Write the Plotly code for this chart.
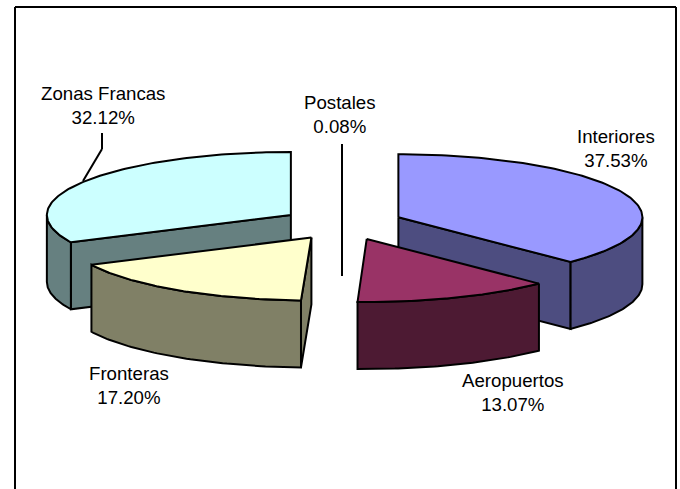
import numpy as np
import plotly.graph_objects as go

categories = ["Interiores", "Aeropuertos", "Postales", "Fronteras", "Zonas Francas"]
shares = [37.53, 13.07, 0.08, 17.20, 32.12]
top_colors = ["#9999ff", "#993366", "#ffffff", "#ffffcc", "#ccffff"]
side_colors = ["#4d4d80", "#4d1a33", "#808080", "#808066", "#668080"]

# pie projection, in pixels of the 680x489 page
CX, CY = 342, 223
A, B, DEPTH = 244, 63, 67
EX, EY = 61, 15
# the original's front slices sit slightly further out than its back ones
NUDGE = {"Interiores": (0, 0), "Zonas Francas": (0.5, 0), "Fronteras": (3, 2), "Aeropuertos": (2.5, 2)}


def pt(ax, ay, deg):
    t = np.radians(deg)
    return ax + A * np.sin(t), ay - B * np.cos(t)


def poly(fig, xs, ys, color):
    fig.add_trace(go.Scatter(x=list(xs), y=list(ys), mode="lines", fill="toself",
                             fillcolor=color, line=dict(color="#000000", width=2),
                             hoverinfo="skip", showlegend=False))


fig = go.Figure()
edges = np.concatenate([[0], np.cumsum(shares)]) / sum(shares) * 360
slices = []
for i, name in enumerate(categories):
    a0, a1 = edges[i], edges[i + 1]
    mid = np.radians((a0 + a1) / 2)
    dx, dy = NUDGE.get(name, (0, 0))
    slices.append(dict(i=i, name=name, a0=a0, a1=a1,
                       ax=CX + dx + EX * np.sin(mid), ay=CY + dy - EY * np.cos(mid)))

# painter's order: back slices first; the hair-thin slice is shown by its leader line
for s in sorted((s for s in slices if s["name"] != "Postales"), key=lambda s: s["ay"]):
    ax, ay, a0, a1, i = s["ax"], s["ay"], s["a0"], s["a1"], s["i"]
    # visible radial faces
    for ang, visible in ((a0, 180 < a0 < 360), (a1, 0 < a1 < 180)):
        if visible:
            ex, ey = pt(ax, ay, ang)
            poly(fig, [ax, ex, ex, ax, ax], [ay, ey, ey + DEPTH, ay + DEPTH, ay], side_colors[i])
    # outer wall (front half of the rim only)
    w0, w1 = max(a0, 90), min(a1, 270)
    if w1 > w0:
        th = np.linspace(w0, w1, 60)
        xs, ys = pt(ax, ay, th)
        poly(fig, np.r_[xs, xs[::-1], xs[0]], np.r_[ys, ys[::-1] + DEPTH, ys[0]], side_colors[i])
    # top face
    th = np.linspace(a0, a1, 120)
    xs, ys = pt(ax, ay, th)
    poly(fig, np.r_[ax, xs, ax], np.r_[ay, ys, ay], top_colors[i])

label_pos = {"Interiores": (615.5, 148), "Aeropuertos": (513, 392), "Postales": (340, 114),
             "Fronteras": (129, 385.5), "Zonas Francas": (103, 105.5)}
for name, share in zip(categories, shares):
    x, y = label_pos[name]
    fig.add_annotation(x=x, y=y, text=f"{name}<br>{share:.2f}%", showarrow=False,
                       xanchor="center", yanchor="middle",
                       font=dict(family="Liberation Sans, Arial, sans-serif", size=18.67, color="#000000"))

line = dict(color="#000000", width=2)
frame = dict(color="#000000", width=2)
shapes = [
    dict(type="line", x0=342, y0=144, x1=342, y1=276, line=line),
    dict(type="line", x0=102, y0=133, x1=102, y1=149, line=line),
    dict(type="line", x0=102, y0=149, x1=83, y1=181, line=line),
    dict(type="line", x0=15, y0=7, x1=676, y1=7, line=frame),
    dict(type="line", x0=15, y0=7, x1=15, y1=489, line=frame),
    dict(type="line", x0=676, y0=7, x1=676, y1=489, line=frame),
]
fig.update_layout(
    width=680, height=489, margin=dict(l=0, r=0, t=0, b=0),
    paper_bgcolor="#ffffff", plot_bgcolor="#ffffff", shapes=shapes, showlegend=False,
    xaxis=dict(range=[0, 680], visible=False, fixedrange=True),
    yaxis=dict(range=[489, 0], visible=False, fixedrange=True),
)
fig.write_html("out.html", config={"displayModeBar": False},
               post_script="document.body.style.margin='0';document.body.style.overflow='hidden';")
